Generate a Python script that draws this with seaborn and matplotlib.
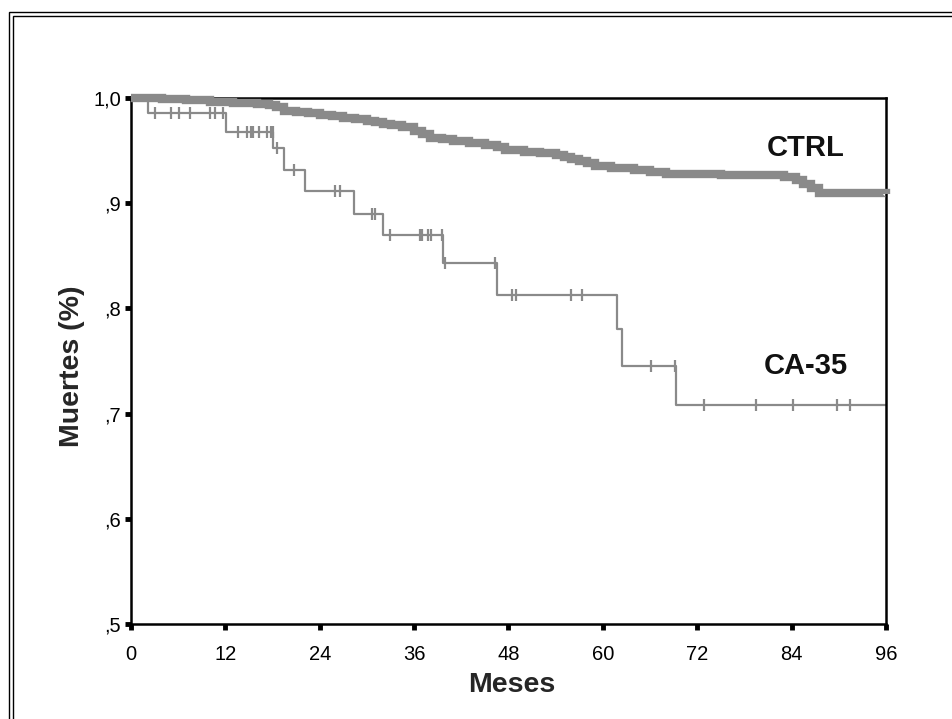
import numpy as np
import pandas as pd
import matplotlib
matplotlib.use("Agg")
import matplotlib.pyplot as plt
from matplotlib.patches import Rectangle
import seaborn as sns

# ---- data ----
ctrl_time = [0, 4, 7, 10, 13, 16, 17.5, 18.5, 19.5, 21, 22.5, 24, 25.5, 27, 28.5, 30, 31,
             32, 33, 34.5, 36, 37, 38, 39.5, 41, 43, 45, 46.5, 47.5, 50, 52, 54, 55, 56,
             57, 58, 59, 61, 64, 66, 68, 75, 83, 84.5, 85.5, 86.5, 87.5, 96]
ctrl_surv = [1.0, 0.999, 0.998, 0.996, 0.995, 0.994, 0.993, 0.991, 0.988, 0.987, 0.986,
             0.984, 0.983, 0.981, 0.980, 0.978, 0.977, 0.975, 0.974, 0.972, 0.969, 0.966,
             0.962, 0.961, 0.959, 0.957, 0.955, 0.953, 0.951, 0.949, 0.948, 0.946, 0.944,
             0.942, 0.940, 0.938, 0.935, 0.933, 0.932, 0.930, 0.928, 0.927, 0.925, 0.922,
             0.918, 0.914, 0.910, 0.909]

ca_time = [0, 2.2, 12.1, 18.1, 19.4, 22.1, 28.4, 32.1, 39.7, 46.6, 61.8, 62.4, 69.3, 96]
ca_surv = [1.0, 0.986, 0.968, 0.952, 0.932, 0.912, 0.890, 0.870, 0.843, 0.813, 0.780,
           0.745, 0.708, 0.708]
ca_censor = [3.05, 5.1, 6.1, 7.5, 10.1, 10.7, 11.7, 13.6, 14.7, 15.2, 15.5, 16.3, 17.3,
             17.8, 18.0, 18.6, 20.7, 25.9, 26.6, 30.6, 31.0, 32.9, 36.7, 37.0, 37.8, 38.2,
             39.6, 39.9, 46.3, 48.4, 49.0, 56.0, 57.3, 66.1, 69.2, 72.9, 79.5, 84.2, 89.8,
             91.4]

x_ticks = [0, 12, 24, 36, 48, 60, 72, 84, 96]
y_ticks = [0.5, 0.6, 0.7, 0.8, 0.9, 1.0]
y_tick_labels = [",5", ",6", ",7", ",8", ",9", "1,0"]
series_names = ["CTRL", "CA-35"]

GRAY = "#8a8a8a"

sns.set_style("white")
plt.rcParams["font.family"] = ["Liberation Sans", "DejaVu Sans"]

fig = plt.figure(figsize=(9.53, 7.19), dpi=100)
ax = fig.add_axes([131 / 953, 1 - 624 / 719, 755 / 953, 526 / 719])

ctrl_df = pd.DataFrame({"t": ctrl_time, "s": ctrl_surv})
ca_df = pd.DataFrame({"t": ca_time, "s": ca_surv})

sns.lineplot(data=ctrl_df, x="t", y="s", ax=ax, color=GRAY, lw=6.0,
             drawstyle="steps-post", sort=False, clip_on=False, zorder=5,
             solid_capstyle="butt", solid_joinstyle="miter")
sns.lineplot(data=ca_df, x="t", y="s", ax=ax, color=GRAY, lw=1.6,
             drawstyle="steps-post", sort=False, clip_on=False, zorder=3)

# censor marks at the current survival level
ca_t_arr = np.array(ca_time)
ca_s_arr = np.array(ca_surv)
idx = np.searchsorted(ca_t_arr, np.array(ca_censor), side="right") - 1
cens_df = pd.DataFrame({"t": ca_censor, "s": ca_s_arr[idx]})
sns.scatterplot(data=cens_df, x="t", y="s", ax=ax, marker="|", s=70,
                color=GRAY, linewidth=1.6, zorder=3)

ax.set_xlim(0, 96)
ax.set_ylim(0.5, 1.0)
ax.set_xticks(x_ticks)
ax.set_xticklabels([str(v) for v in x_ticks])
ax.set_yticks(y_ticks)
ax.set_yticklabels(y_tick_labels)

for sp in ax.spines.values():
    sp.set_visible(True)
    sp.set_color("black")
    sp.set_linewidth(1.8)
    sp.set_zorder(4)

ax.tick_params(axis="both", which="major", bottom=True, left=True, top=False, right=False,
               direction="out", length=4, width=3.5, color="black",
               labelsize=14.5, labelcolor="black")
ax.tick_params(axis="x", pad=11)
ax.tick_params(axis="y", pad=3)

ax.set_xlabel("Meses", fontsize=20.5, fontweight="bold", va="center")
ax.set_ylabel("Muertes (%)", fontsize=20.5, fontweight="bold", va="center")
ax.xaxis.set_label_coords(0.504, (624 - 685) / 526)
ax.yaxis.set_label_coords((72 - 131) / 755, 0.49)

ax.text(80.9, 0.9525, series_names[0], fontsize=21, fontweight="bold",
        va="center", ha="left", color="#111111")
ax.text(80.4, 0.745, series_names[1], fontsize=21, fontweight="bold",
        va="center", ha="left", color="#111111")

# double frame around the figure (top and left visible)
for off in (9, 13):
    fig.add_artist(Rectangle((off / 953, -0.5), 2.0, 1 - (off + 3) / 719 + 0.5,
                             transform=fig.transFigure, fill=False,
                             edgecolor="black", lw=1.0, clip_on=False))

fig.savefig("out.png", dpi=100, facecolor="white")
